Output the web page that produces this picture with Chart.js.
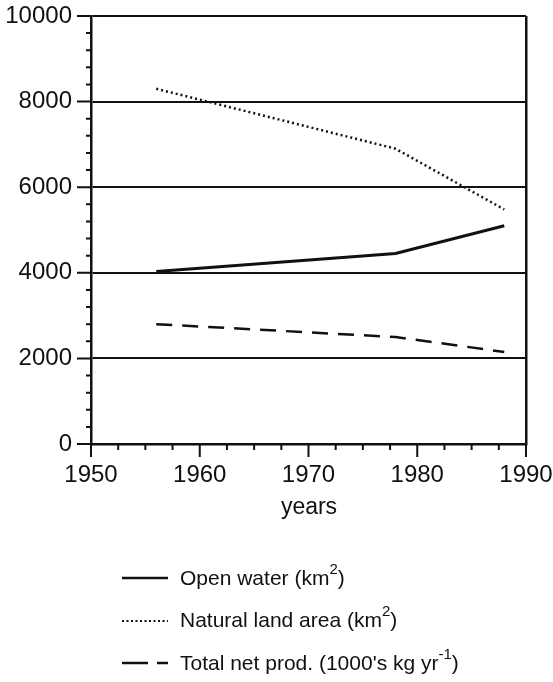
<!DOCTYPE html>
<html>
<head>
<meta charset="utf-8">
<script src="https://cdn.jsdelivr.net/npm/chart.js@4.4.0/dist/chart.umd.min.js"></script>
<style>
  html, body { margin: 0; padding: 0; background: #fff; }
  #wrap { position: relative; width: 553px; height: 682px; font-family: "Liberation Sans", Arial, sans-serif; color: #111; }
  #chart { position: absolute; left: 0; top: 0; }
  .axis-title { position: absolute; left: 91px; width: 436px; top: 493px; text-align: center; font-size: 23px; }
  .legend-row { position: absolute; left: 120px; height: 30px; display: flex; align-items: center; font-size: 21px; white-space: nowrap; }
  .legend-row sup { font-size: 15px; position: relative; top: -9px; vertical-align: baseline; line-height: 0; }
  .legend-row svg { margin-right: 10px; }
</style>
</head>
<body>
<div id="wrap">
  <canvas id="chart" width="553" height="682"></canvas>
  <div class="axis-title">years</div>
  <div class="legend-row" style="top: 563px;">
    <svg width="50" height="8"><line x1="2" y1="4" x2="48" y2="4" stroke="#111" stroke-width="2.5"/></svg>Open water (km<sup>2</sup>)
  </div>
  <div class="legend-row" style="top: 605px;">
    <svg width="50" height="8"><line x1="2" y1="5" x2="48" y2="5" stroke="#111" stroke-width="2" stroke-dasharray="2 2.5"/></svg>Natural land area (km<sup>2</sup>)
  </div>
  <div class="legend-row" style="top: 648px;">
    <svg width="50" height="8"><line x1="2" y1="4" x2="48" y2="4" stroke="#111" stroke-width="2.5" stroke-dasharray="26 9 11 10"/></svg>Total net prod. (1000's kg yr<sup>-1</sup>)
  </div>
</div>
<script>
const years = [1956, 1978, 1988];
const openWater = [4030, 4450, 5100];
const naturalLand = [8300, 6900, 5480];
const totalNetProd = [2800, 2500, 2150];

const xTicks = { min: 1950, max: 1990, step: 2.5, major: 10 };
const yTicks = { min: 0, max: 10000, step: 400, major: 2000 };

const ink = "#111";
const tickFont = { family: "Liberation Sans, Arial, sans-serif", size: 24 };

function toPoints(values) {
  return years.map((year, i) => ({ x: year, y: values[i] }));
}

// tick marks drawn outside the plot, long for majors, short for minors
const tickMarks = {
  id: "tickMarks",
  afterDraw(chart) {
    const { ctx, chartArea, scales } = chart;
    ctx.save();
    ctx.strokeStyle = ink;
    ctx.lineWidth = 2;
    ctx.beginPath();
    for (let v = xTicks.min; v <= xTicks.max; v += xTicks.step) {
      const px = scales.x.getPixelForValue(v);
      const len = v % xTicks.major === 0 ? 13 : 6;
      ctx.moveTo(px, chartArea.bottom);
      ctx.lineTo(px, chartArea.bottom + len);
    }
    for (let v = yTicks.min; v <= yTicks.max; v += yTicks.step) {
      const py = scales.y.getPixelForValue(v);
      const len = v % yTicks.major === 0 ? 14 : 5;
      ctx.moveTo(chartArea.left, py);
      ctx.lineTo(chartArea.left - len, py);
    }
    ctx.stroke();
    ctx.restore();
  }
};

new Chart(document.getElementById("chart").getContext("2d"), {
  type: "line",
  data: {
    datasets: [
      {
        label: "Open water",
        data: toPoints(openWater),
        borderColor: ink,
        borderWidth: 3,
        pointRadius: 0,
        tension: 0
      },
      {
        label: "Natural land area",
        data: toPoints(naturalLand),
        borderColor: ink,
        borderWidth: 2.5,
        borderDash: [2, 3],
        pointRadius: 0,
        tension: 0
      },
      {
        label: "Total net prod.",
        data: toPoints(totalNetProd),
        borderColor: ink,
        borderWidth: 2.5,
        borderDash: [16, 10],
        pointRadius: 0,
        tension: 0
      }
    ]
  },
  options: {
    responsive: false,
    animation: false,
    layout: { padding: { top: 16, right: 27, left: 0, bottom: 0 } },
    plugins: { legend: { display: false }, tooltip: { enabled: false } },
    scales: {
      x: {
        type: "linear",
        min: xTicks.min,
        max: xTicks.max,
        afterFit(scale) {
          scale.height = 238;
          scale.paddingLeft = 0;
          scale.paddingRight = 0;
        },
        border: { color: ink, width: 2.5 },
        grid: {
          drawTicks: false,
          lineWidth: 2.5,
          color: (c) => (c.tick && c.tick.value === xTicks.max ? ink : "rgba(0,0,0,0)")
        },
        ticks: {
          stepSize: xTicks.step,
          autoSkip: false,
          maxRotation: 0,
          minRotation: 0,
          padding: 17,
          color: ink,
          font: tickFont,
          callback: (v) => (v % xTicks.major === 0 ? String(v) : "")
        }
      },
      y: {
        min: yTicks.min,
        max: yTicks.max,
        afterFit(scale) {
          scale.width = 91;
          scale.paddingTop = 0;
          scale.paddingBottom = 0;
        },
        border: { color: ink, width: 2.5 },
        grid: {
          drawTicks: false,
          lineWidth: 2,
          color: (c) => (c.tick && c.tick.value % yTicks.major === 0 && c.tick.value > 0 ? ink : "rgba(0,0,0,0)")
        },
        ticks: {
          stepSize: yTicks.step,
          autoSkip: false,
          padding: 19,
          color: ink,
          font: tickFont,
          callback: (v) => (v % yTicks.major === 0 ? String(v) : "")
        }
      }
    }
  },
  plugins: [tickMarks]
});
</script>
</body>
</html>
